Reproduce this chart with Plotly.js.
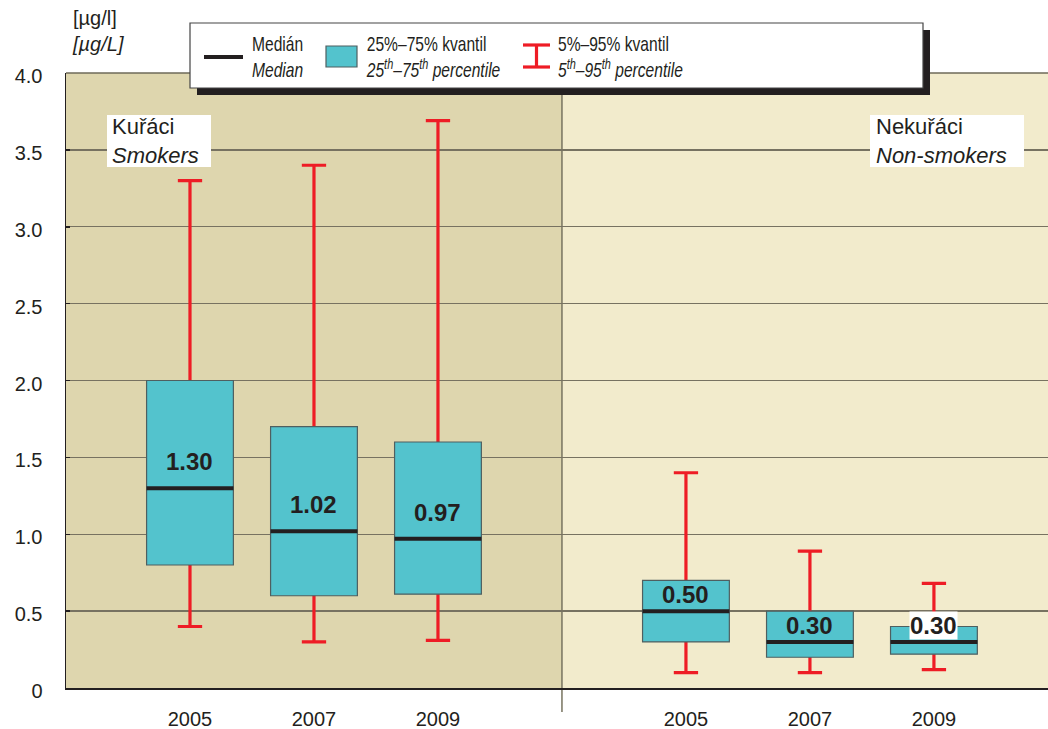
<!DOCTYPE html>
<html>
<head>
<meta charset="utf-8">
<script src="https://cdn.plot.ly/plotly-3.0.1.min.js"></script>
<style>
  html, body { margin: 0; padding: 0; background: #ffffff; }
  #chart { width: 1048px; height: 729px; }
</style>
</head>
<body>
<div id="chart"></div>
<script>
// Cotinine-type concentrations in urine, smokers vs. non-smokers, by year
const years  = ['2005', '2007', '2009', '2005', '2007', '2009'];
const slot   = [1, 2, 3, 5, 6, 7];            // positions on the x axis (4 = divider)
const p5     = [0.40, 0.30, 0.31, 0.10, 0.10, 0.12];
const q1     = [0.80, 0.60, 0.61, 0.30, 0.20, 0.22];
const median = [1.30, 1.02, 0.97, 0.50, 0.30, 0.30];
const q3     = [2.00, 1.70, 1.60, 0.70, 0.50, 0.40];
const p95    = [3.30, 3.40, 3.69, 1.40, 0.89, 0.68];

const yTicks     = [0, 0.5, 1, 1.5, 2, 2.5, 3, 3.5, 4];
const yTickText  = ['0', '0.5', '1.0', '1.5', '2.0', '2.5', '3.0', '3.5', '4.0'];

// page geometry
const W = 1048, H = 729;
const M = { l: 66, r: 0, t: 73, b: 41 };
const plotW = W - M.l - M.r, plotH = H - M.t - M.b;
const xRange = [0, 7.92];
const divider = 4;
const boxW = 0.70;
const boxPx = boxW * plotW / (xRange[1] - xRange[0]);

// pixel -> paper helpers for the decorations around the plot
const px = x => (x - M.l) / plotW;
const py = y => (H - M.b - y) / plotH;

const FONT = 'Liberation Sans, Arial, Helvetica, sans-serif';
const INK = '#231f20';
const TEAL = '#53c3cd';
const RED = '#ee1c25';

// 5th–95th percentile whiskers (zero-height box so only the whiskers show)
const whiskers = {
  type: 'box',
  x: slot,
  q1: median, median: median, q3: median,
  lowerfence: p5, upperfence: p95,
  width: boxW,
  whiskerwidth: 0.28,
  boxpoints: false,
  fillcolor: 'rgba(0,0,0,0)',
  line: { color: RED, width: 3.2 },
  hoverinfo: 'skip',
  showlegend: false
};

// 25th–75th percentile boxes
const boxes = {
  type: 'box',
  x: slot,
  q1: q1, median: median, q3: q3,
  lowerfence: q1, upperfence: q3,
  width: boxW,
  whiskerwidth: 0,
  boxpoints: false,
  fillcolor: TEAL,
  line: { color: '#4f5f60', width: 1.2 },
  hoverinfo: 'skip',
  showlegend: false
};

// thick median bars ('line-ew' symbols are drawn 1.4x their size)
const medians = {
  type: 'scatter',
  mode: 'markers',
  x: slot,
  y: median,
  marker: {
    symbol: 'line-ew',
    size: boxPx / 1.4,
    color: INK,
    line: { color: INK, width: 4 }
  },
  hoverinfo: 'skip',
  showlegend: false
};

// median value labels
const valueLabels = slot.map((s, i) => ({
  x: s, y: median[i], xref: 'x', yref: 'y',
  text: median[i].toFixed(2),
  showarrow: false,
  xanchor: 'center', yanchor: 'bottom',
  yshift: s < divider ? 12 : 2,
  bgcolor: (q3[i] - median[i]) < 0.15 ? '#ffffff' : 'rgba(0,0,0,0)',
  borderpad: 0,
  font: { family: FONT, size: 24, color: INK, weight: 'bold' }
}));

const shapes = [
  // group backgrounds
  { type: 'rect', layer: 'below', xref: 'x', yref: 'paper', x0: xRange[0], x1: divider, y0: 0, y1: 1,
    fillcolor: '#ded6ae', line: { width: 0 } },
  { type: 'rect', layer: 'below', xref: 'x', yref: 'paper', x0: divider, x1: xRange[1], y0: 0, y1: 1,
    fillcolor: '#f2ebcc', line: { width: 0 } },
  // divider between groups, reaching into the tick-label band
  { type: 'line', layer: 'below', xref: 'x', yref: 'paper', x0: divider, x1: divider, y0: py(712), y1: 1,
    line: { color: '#77735f', width: 1.5 } },
  // top edge of the plot
  { type: 'line', layer: 'above', xref: 'paper', yref: 'paper', x0: 0, x1: 1, y0: 1, y1: 1,
    line: { color: '#6e6a58', width: 1.5 } },

  // group name panels
  { type: 'rect', layer: 'above', xref: 'paper', yref: 'paper', x0: px(107), x1: px(211), y0: py(167), y1: py(115),
    fillcolor: '#ffffff', line: { width: 0 } },
  { type: 'rect', layer: 'above', xref: 'paper', yref: 'paper', x0: px(870), x1: px(1024), y0: py(167), y1: py(115),
    fillcolor: '#ffffff', line: { width: 0 } },

  // legend frame with drop shadow
  { type: 'rect', layer: 'above', xref: 'paper', yref: 'paper', x0: px(197), x1: px(930), y0: py(95), y1: py(30),
    fillcolor: '#231f20', line: { width: 0 } },
  { type: 'rect', layer: 'above', xref: 'paper', yref: 'paper', x0: px(190), x1: px(923), y0: py(88), y1: py(23),
    fillcolor: '#ffffff', line: { color: '#444444', width: 1.2 } },
  // legend: median sample
  { type: 'line', layer: 'above', xref: 'paper', yref: 'paper', x0: px(204), x1: px(243), y0: py(57), y1: py(57),
    line: { color: INK, width: 4 } },
  // legend: box sample
  { type: 'rect', layer: 'above', xref: 'paper', yref: 'paper', x0: px(326), x1: px(357), y0: py(67), y1: py(46),
    fillcolor: TEAL, line: { color: '#4f5f60', width: 1.2 } },
  // legend: whisker sample
  { type: 'line', layer: 'above', xref: 'paper', yref: 'paper', x0: px(523), x1: px(550), y0: py(45), y1: py(45),
    line: { color: RED, width: 3.2 } },
  { type: 'line', layer: 'above', xref: 'paper', yref: 'paper', x0: px(523), x1: px(550), y0: py(67), y1: py(67),
    line: { color: RED, width: 3.2 } },
  { type: 'line', layer: 'above', xref: 'paper', yref: 'paper', x0: px(536.5), x1: px(536.5), y0: py(67), y1: py(45),
    line: { color: RED, width: 3.2 } }
];

const textAnn = (x, y, text, size) => ({
  xref: 'paper', yref: 'paper', x: px(x), y: py(y),
  text: text, showarrow: false, xanchor: 'left', yanchor: 'middle', align: 'left',
  font: { family: FONT, size: size, color: INK }
});

const legendTexts = [
  textAnn(250, 57, 'Medián<br><i>Median</i>', 20),
  textAnn(364, 57, '25%–75% kvantil<br><i>25<sup>th</sup>–75<sup>th</sup> percentile</i>', 20),
  textAnn(556, 57, '5%–95% kvantil<br><i>5<sup>th</sup>–95<sup>th</sup> percentile</i>', 20)
];

const annotations = valueLabels.concat([
  textAnn(70, 31, '[µg/l]<br><i>[µg/L]</i>', 20),
  textAnn(110, 141, 'Kuřáci<br><i>Smokers</i>', 22),
  textAnn(874, 141, 'Nekuřáci<br><i>Non-smokers</i>', 22)
], legendTexts);

const narrowFrom = annotations.length - legendTexts.length;

const layout = {
  width: W, height: H,
  margin: M,
  paper_bgcolor: '#ffffff',
  plot_bgcolor: 'rgba(0,0,0,0)',
  showlegend: false,
  boxmode: 'overlay',
  font: { family: FONT, color: INK },
  xaxis: {
    range: xRange,
    tickmode: 'array',
    tickvals: slot,
    ticktext: years,
    ticks: 'outside', ticklen: 12, tickcolor: 'rgba(0,0,0,0)',
    tickfont: { family: FONT, size: 20, color: INK },
    showgrid: false, zeroline: false,
    showline: true, linecolor: INK, linewidth: 1.5,
    fixedrange: true
  },
  yaxis: {
    range: [0, 4],
    tickmode: 'array',
    tickvals: yTicks,
    ticktext: yTickText,
    ticks: 'inside', ticklen: 4, tickcolor: INK, tickwidth: 1.5,
    ticklabelstandoff: 18,
    ticklabelshift: 3,
    tickfont: { family: FONT, size: 20, color: INK },
    showgrid: true, gridcolor: '#777261', gridwidth: 1.3,
    zeroline: false,
    showline: true, linecolor: INK, linewidth: 1.5,
    fixedrange: true
  },
  shapes: shapes,
  annotations: annotations
};

Plotly.newPlot('chart', [whiskers, boxes, medians], layout, { staticPlot: true, displayModeBar: false })
  .then(gd => {
    // legend captions are set in a condensed face: squeeze them horizontally from their left edge
    gd.querySelectorAll('g.annotation').forEach(g => {
      const idx = +g.getAttribute('data-index');
      if (idx < narrowFrom) return;
      const t = g.querySelector('text.annotation-text');
      if (!t) return;
      const bb = t.getBBox();
      const prev = t.getAttribute('transform') || '';
      t.setAttribute('transform',
        prev + ` translate(${bb.x},0) scale(0.78,1) translate(${-bb.x},0)`);
    });
  });
</script>
</body>
</html>
